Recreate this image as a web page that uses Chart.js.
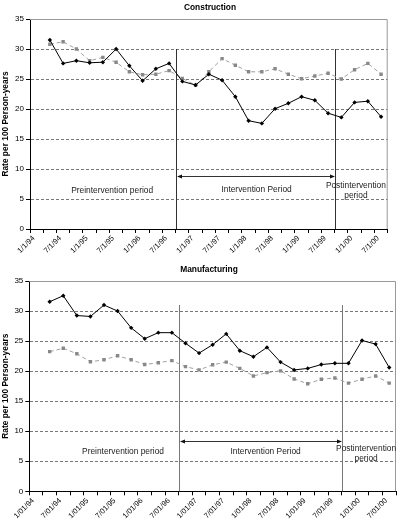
<!DOCTYPE html>
<html>
<head>
<meta charset="utf-8">
<script src="https://cdn.jsdelivr.net/npm/chart.js@4.4.0/dist/chart.umd.min.js"></script>
<style>
    body { margin: 0; background: #fff; }
    canvas { display: block; }
</style>
</head>
<body>
<canvas id="constructionChart" width="400" height="262"></canvas>
<canvas id="manufacturingChart" width="400" height="263"></canvas>
<script>
// Quarters on the x axis (only every second one gets a label)
const constructionQuarters = ['1/1/94','4/1/94','7/1/94','10/1/94','1/1/95','4/1/95','7/1/95','10/1/95',
    '1/1/96','4/1/96','7/1/96','10/1/96','1/1/97','4/1/97','7/1/97','10/1/97','1/1/98','4/1/98','7/1/98',
    '10/1/98','1/1/99','4/1/99','7/1/99','10/1/99','1/1/00','4/1/00','7/1/00'];
const manufacturingQuarters = ['1/01/94','4/01/94','7/01/94','10/01/94','1/01/95','4/01/95','7/01/95','10/01/95',
    '1/01/96','4/01/96','7/01/96','10/01/96','1/01/97','4/01/97','7/01/97','10/01/97','1/01/98','4/01/98','7/01/98',
    '10/01/98','1/01/99','4/01/99','7/01/99','10/01/99','1/01/00','4/01/00','7/01/00'];

// Rates per 100 person-years (first quarter has no value)
const constructionSolid = [null, 31.5, 27.6, 28.05, 27.7, 27.8, 30.0, 27.2, 24.7, 26.7, 27.6, 24.6, 24.0,
    25.8, 24.8, 22.05, 18.05, 17.6, 20.05, 20.95, 22.05, 21.45, 19.3, 18.6, 21.1, 21.3, 18.7];
const constructionDashed = [null, 30.8, 31.2, 30.0, 28.05, 28.6, 27.8, 26.2, 25.7, 25.8, 26.4, 25.1, 23.95,
    26.2, 28.4, 27.3, 26.2, 26.2, 26.7, 25.8, 25.05, 25.5, 25.95, 25.0, 26.55, 27.6, 25.8];
const manufacturingSolid = [null, 31.55, 32.55, 29.25, 29.1, 31.0, 30.0, 27.2, 25.4, 26.4, 26.4, 24.65, 23.0,
    24.4, 26.2, 23.4, 22.4, 23.95, 21.5, 20.2, 20.45, 21.1, 21.3, 21.3, 25.1, 24.5, 20.6];
const manufacturingDashed = [null, 23.25, 23.8, 22.9, 21.55, 21.9, 22.55, 21.9, 21.1, 21.4, 21.75, 20.75, 20.2,
    21.05, 21.5, 20.45, 19.2, 19.75, 20.05, 18.7, 17.9, 18.65, 18.85, 18.0, 18.65, 19.2, 18.0];

const FONT = '"Liberation Sans", Arial, sans-serif';

// Draws the frame, period dividers, arrow, period names and the chart title
const periodPlugin = {
    id: 'periods',
    beforeDatasetsDraw(chart, args, opts) {
        const { ctx, chartArea: a, scales: { x, y } } = chart;
        ctx.save();

        // grey frame on top and right
        ctx.strokeStyle = '#999';
        ctx.lineWidth = 1;
        ctx.beginPath();
        ctx.moveTo(a.left, a.top + 0.5);
        ctx.lineTo(a.right - 0.5, a.top + 0.5);
        ctx.lineTo(a.right - 0.5, a.bottom);
        ctx.stroke();

        // vertical dividers between periods
        ctx.strokeStyle = opts.lineColor;
        opts.dividers.forEach(v => {
            const px = Math.round(x.getPixelForValue(v)) + 0.5;
            ctx.beginPath();
            ctx.moveTo(px, y.getPixelForValue(opts.dividerTop));
            ctx.lineTo(px, a.bottom);
            ctx.stroke();
        });

        // double headed arrow across the intervention period
        const x1 = Math.round(x.getPixelForValue(opts.dividers[0])) + 1;
        const x2 = Math.round(x.getPixelForValue(opts.dividers[1]));
        const ay = Math.round(y.getPixelForValue(opts.arrowY)) + 0.5;
        ctx.strokeStyle = '#333';
        ctx.fillStyle = '#111';
        ctx.beginPath();
        ctx.moveTo(x1 + 4, ay);
        ctx.lineTo(x2 - 4, ay);
        ctx.stroke();
        ctx.beginPath();
        ctx.moveTo(x1, ay); ctx.lineTo(x1 + 5, ay - 2); ctx.lineTo(x1 + 5, ay + 2); ctx.closePath();
        ctx.moveTo(x2, ay); ctx.lineTo(x2 - 5, ay - 2); ctx.lineTo(x2 - 5, ay + 2); ctx.closePath();
        ctx.fill();

        // period names
        ctx.font = '8.4px ' + FONT;
        ctx.fillStyle = '#222';
        ctx.textAlign = 'center';
        ctx.textBaseline = 'middle';
        opts.texts.forEach(t => {
            ctx.fillText(t.text, x.getPixelForValue(t.x), y.getPixelForValue(t.y));
        });

        // chart title
        ctx.font = 'bold 8.4px ' + FONT;
        ctx.fillStyle = '#000';
        ctx.fillText(opts.title, opts.titleX, 8);
        ctx.restore();
    }
};

function makeChart(canvasId, labels, solid, dashed, setup) {
    const ctx = document.getElementById(canvasId);
    return new Chart(ctx, {
        type: 'line',
        data: {
            labels: labels,
            datasets: [
                {
                    label: 'Rate',
                    data: solid,
                    borderColor: '#000',
                    borderWidth: 1,
                    pointStyle: 'rectRot',
                    pointRadius: 2.2,
                    pointBackgroundColor: '#000',
                    pointBorderWidth: 0
                },
                {
                    label: 'Comparison',
                    data: dashed,
                    borderColor: '#a0a0a0',
                    borderWidth: 1,
                    borderDash: [4, 3],
                    pointStyle: 'rect',
                    pointRadius: 2.4,
                    pointBackgroundColor: '#888',
                    pointBorderWidth: 0
                }
            ]
        },
        options: {
            responsive: false,
            animation: false,
            layout: { padding: { top: 19, right: setup.rightPad, bottom: 0, left: 0 } },
            plugins: {
                legend: { display: false },
                tooltip: { enabled: false },
                periods: setup.periods
            },
            scales: {
                x: {
                    offset: true,
                    grid: { display: true, drawOnChartArea: false, offset: true, tickLength: 4, tickColor: '#000' },
                    border: { color: '#000' },
                    ticks: {
                        autoSkip: false,
                        minRotation: 45,
                        maxRotation: 45,
                        padding: 1,
                        labelOffset: -3,
                        color: '#000',
                        font: { family: FONT, size: 7.5 },
                        callback: function(value, index) {
                            return index % 2 === 0 ? this.getLabelForValue(value) : '';
                        }
                    },
                    afterFit: s => { s.height = setup.xHeight; }
                },
                y: {
                    min: 0,
                    max: 35,
                    ticks: { stepSize: 5, padding: 2, color: '#000', font: { family: FONT, size: 8 } },
                    grid: {
                        color: c => (c.tick.value === 0 || c.tick.value === 35) ? 'rgba(0,0,0,0)' : '#777',
                        tickColor: '#000',
                        tickLength: 4
                    },
                    border: { color: '#000', dash: [3, 2] },
                    title: {
                        display: true,
                        text: 'Rate per 100 Person-years',
                        color: '#000',
                        font: { family: FONT, size: 8.4, weight: 'bold' },
                        padding: { top: 1, bottom: 0 }
                    },
                    afterFit: s => { s.width = setup.yWidth; }
                }
            }
        },
        plugins: [periodPlugin]
    });
}

makeChart('constructionChart', constructionQuarters, constructionSolid, constructionDashed, {
    rightPad: 12.3,
    xHeight: 33,
    yWidth: 30,
    periods: {
        title: 'Construction',
        titleX: 210,
        lineColor: '#333',
        dividers: [10.5, 22.5],
        dividerTop: 30,
        arrowY: 8.8,
        texts: [
            { text: 'Preintervention period', x: 5.7, y: 6.4 },
            { text: 'Intervention Period', x: 16.6, y: 6.5 },
            { text: 'Postintervention', x: 24.1, y: 7.2 },
            { text: 'period', x: 24.1, y: 5.5 }
        ]
    }
});

makeChart('manufacturingChart', manufacturingQuarters, manufacturingSolid, manufacturingDashed, {
    rightPad: 1,
    xHeight: 33.7,
    yWidth: 29.3,
    periods: {
        title: 'Manufacturing',
        titleX: 209,
        lineColor: '#777',
        dividers: [10.5, 22.5],
        dividerTop: 31,
        arrowY: 8.4,
        texts: [
            { text: 'Preintervention period', x: 6.4, y: 6.55 },
            { text: 'Intervention Period', x: 16.9, y: 6.65 },
            { text: 'Postintervention', x: 24.3, y: 7.05 },
            { text: 'period', x: 24.3, y: 5.4 }
        ]
    }
});
</script>
</body>
</html>
